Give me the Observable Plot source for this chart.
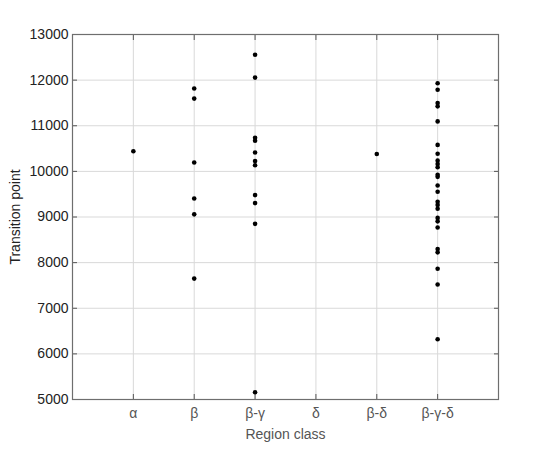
<!DOCTYPE html>
<html>
<head>
<meta charset="utf-8">
<script src="https://cdn.jsdelivr.net/npm/d3@7"></script>
<script src="https://cdn.jsdelivr.net/npm/@observablehq/plot@0.6"></script>
<style>
  html, body { margin: 0; padding: 0; background: white; }
</style>
</head>
<body>
<div id="chart"></div>
<script>
const categories = ["α", "β", "β-γ", "δ", "β-δ", "β-γ-δ"];
const yTicks = [5000, 6000, 7000, 8000, 9000, 10000, 11000, 12000, 13000];

const alphaValues = [10440];
const betaValues = [11815, 11595, 10195, 9405, 9058, 7650];
const betaGammaValues = [12555, 12055, 10735, 10670, 10415, 10225, 10135, 9480, 9305, 8850, 5160];
const deltaValues = [];
const betaDeltaValues = [10380];
const betaGammaDeltaValues = [11930, 11790, 11500, 11425, 11095, 10580, 10385, 10235, 10160, 10090, 9925, 9880, 9690, 9555, 9335, 9265, 9180, 8980, 8905, 8770, 8300, 8225, 7865, 7520, 6320];

const seriesByCategory = [alphaValues, betaValues, betaGammaValues, deltaValues, betaDeltaValues, betaGammaDeltaValues];
const data = categories.flatMap((c, i) => seriesByCategory[i].map(v => ({region: c, value: v})));

const chart = Plot.plot({
  width: 550,
  height: 450,
  marginLeft: 72,
  marginRight: 52,
  marginTop: 34,
  marginBottom: 51,
  style: {fontFamily: "'Liberation Sans', Helvetica, Arial, sans-serif", fontSize: "14px", color: "#333", background: "white"},
  x: {type: "point", domain: categories, padding: 1, round: false},
  y: {domain: [5000, 13000]},
  marks: [
    Plot.gridX(categories, {stroke: "#d9d9d9", strokeOpacity: 1}),
    Plot.gridY(yTicks, {stroke: "#d9d9d9", strokeOpacity: 1}),
    Plot.axisX(categories, {anchor: "bottom", tickSize: -5, tickPadding: 14, stroke: "#555", label: "Region class", labelAnchor: "center", labelArrow: "none", labelOffset: 39, fill: "#555"}),
    Plot.axisX(categories, {anchor: "top", tickSize: -5, tickFormat: () => "", stroke: "#555", label: null}),
    Plot.axisY(yTicks, {anchor: "left", tickSize: -5, tickPadding: 9, tickFormat: d => String(d), stroke: "#555", label: "Transition point", labelAnchor: "center", labelArrow: "none", labelOffset: 62, fill: "#222"}),
    Plot.axisY(yTicks, {anchor: "right", tickSize: -5, tickFormat: () => "", stroke: "#555", label: null}),
    Plot.frame({stroke: "#6e6e6e", strokeWidth: 1.2}),
    Plot.dot(data, {x: "region", y: "value", r: 2.3, fill: "black", stroke: "none"})
  ]
});
document.getElementById("chart").appendChild(chart);
</script>
</body>
</html>
